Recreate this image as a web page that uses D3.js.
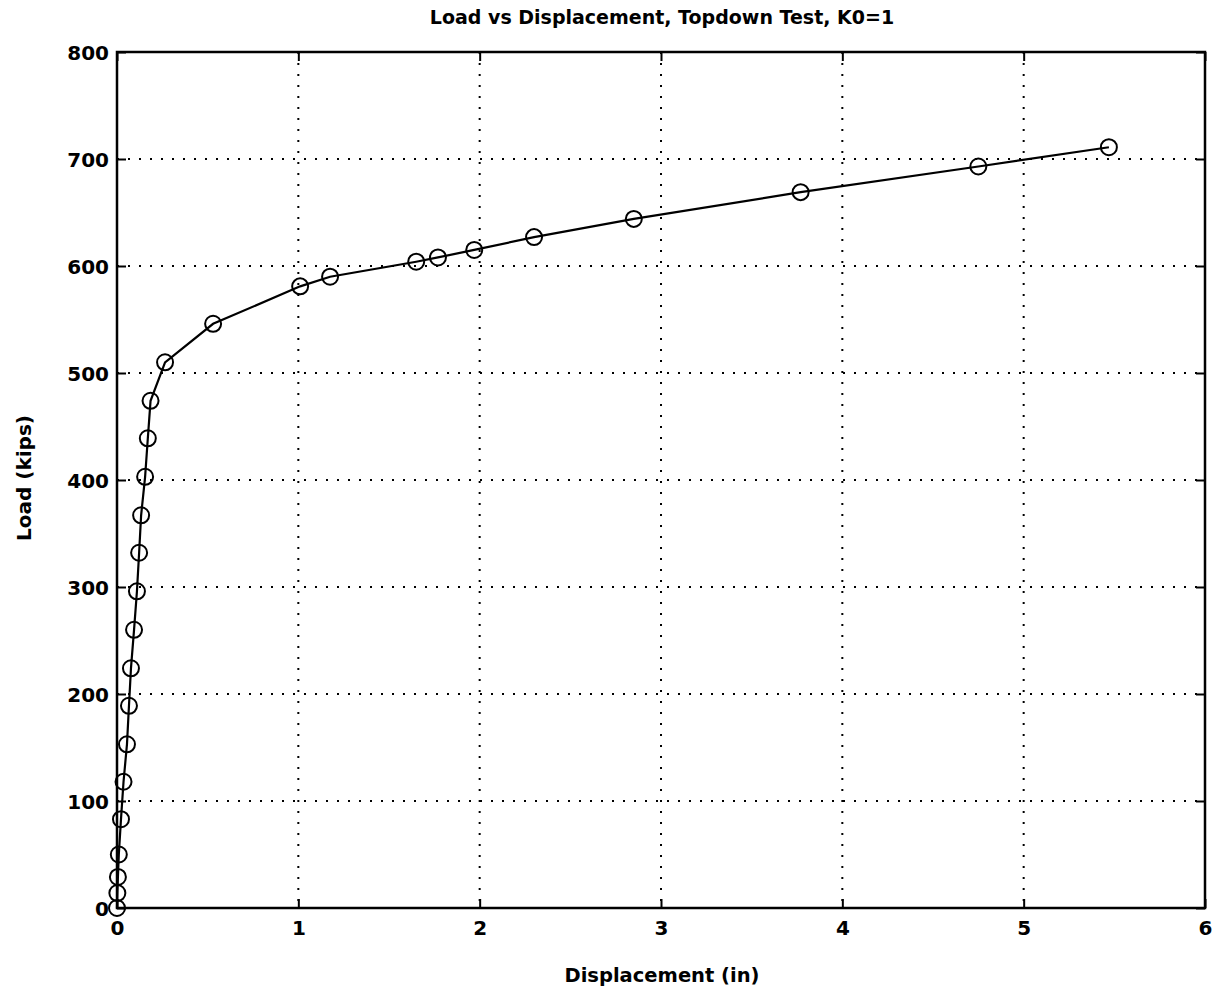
<!DOCTYPE html>
<html>
<head>
<meta charset="utf-8">
<script src="https://cdn.jsdelivr.net/npm/d3@7"></script>
<style>
  html, body { margin: 0; padding: 0; background: #fff; }
  svg { display: block; }
  text { font-family: "DejaVu Sans", "Liberation Sans", Arial, sans-serif; font-weight: bold; fill: #000; }
</style>
</head>
<body>
<svg id="chart" width="1220" height="998"></svg>
<script>
// Load-displacement readings from the topdown test (K0 = 1)
const displacement = [0, 0.002, 0.005, 0.01, 0.022, 0.036, 0.055, 0.066, 0.077, 0.094,
  0.11, 0.122, 0.133, 0.155, 0.17, 0.185, 0.265, 0.53, 1.01, 1.175,
  1.65, 1.77, 1.97, 2.3, 2.85, 3.77, 4.75, 5.47];
const load = [0, 14, 29, 50, 83, 118, 153, 189, 224, 260,
  296, 332, 367, 403, 439, 474, 510, 546, 581, 590,
  604, 608, 615, 627, 644, 669, 693, 711];
const xTicks = [0, 1, 2, 3, 4, 5, 6];
const yTicks = [0, 100, 200, 300, 400, 500, 600, 700, 800];
const titleText = "Load vs Displacement, Topdown Test, K0=1";
const xLabelText = "Displacement (in)";
const yLabelText = "Load (kips)";

const FONT = "DejaVu Sans, Liberation Sans, Arial, sans-serif";
const svg = d3.select("#chart");
const m = { left: 117, right: 1205, top: 52, bottom: 908 };

const x = d3.scaleLinear().domain([0, 6]).range([m.left, m.right]);
const y = d3.scaleLinear().domain([0, 800]).range([m.bottom, m.top]);

// dotted grid
const grid = svg.append("g");
grid.selectAll("line.gx").data(xTicks.slice(1, -1)).join("line")
  .attr("x1", d => x(d)).attr("x2", d => x(d))
  .attr("y1", m.top).attr("y2", m.bottom)
  .attr("stroke", "#000").attr("stroke-width", 2).attr("stroke-dasharray", "2,9");
grid.selectAll("line.gy").data(yTicks.slice(1, -1)).join("line")
  .attr("y1", d => y(d)).attr("y2", d => y(d))
  .attr("x1", m.left).attr("x2", m.right)
  .attr("stroke", "#000").attr("stroke-width", 2).attr("stroke-dasharray", "2,9");

// axes with inward ticks, mirrored on the opposite sides
const tickLen = 9;
const xAxis = d3.axisBottom(x).tickValues(xTicks).tickSize(-tickLen).tickPadding(13).tickFormat(d3.format("d"));
const yAxis = d3.axisLeft(y).tickValues(yTicks).tickSize(-tickLen).tickPadding(8).tickFormat(d3.format("d"));

const gx = svg.append("g").attr("transform", `translate(0,${m.bottom})`).call(xAxis);
const gy = svg.append("g").attr("transform", `translate(${m.left},0)`).call(yAxis);
svg.append("g").attr("transform", `translate(0,${m.top})`)
  .call(d3.axisTop(x).tickValues(xTicks).tickSize(-tickLen).tickFormat(""));
svg.append("g").attr("transform", `translate(${m.right},0)`)
  .call(d3.axisRight(y).tickValues(yTicks).tickSize(-tickLen).tickFormat(""));

svg.selectAll(".domain").remove();
svg.selectAll(".tick line").attr("stroke", "#000").attr("stroke-width", 2);
gx.selectAll("text").attr("font-size", 20).attr("font-family", FONT).attr("font-weight", "bold");
gy.selectAll("text").attr("font-size", 20).attr("font-family", FONT).attr("font-weight", "bold")
  .attr("dy", "0.36em");

// plot box
svg.append("rect")
  .attr("x", m.left).attr("y", m.top)
  .attr("width", m.right - m.left).attr("height", m.bottom - m.top)
  .attr("fill", "none").attr("stroke", "#000").attr("stroke-width", 2.5);

// curve and markers
const pts = displacement.map((d, i) => [d, load[i]]);
svg.append("path")
  .datum(pts)
  .attr("d", d3.line().x(d => x(d[0])).y(d => y(d[1])))
  .attr("fill", "none").attr("stroke", "#000").attr("stroke-width", 2.2);
svg.append("g").selectAll("circle").data(pts).join("circle")
  .attr("cx", d => x(d[0])).attr("cy", d => y(d[1]))
  .attr("r", 8)
  .attr("fill", "none").attr("stroke", "#000").attr("stroke-width", 2);

// titles
svg.append("text").attr("x", 662).attr("y", 24).attr("text-anchor", "middle")
  .attr("font-size", 19).text(titleText);
svg.append("text").attr("x", 662).attr("y", 982).attr("text-anchor", "middle")
  .attr("font-size", 19.5).text(xLabelText);
svg.append("text").attr("transform", `translate(31,478) rotate(-90)`).attr("text-anchor", "middle")
  .attr("font-size", 20).text(yLabelText);
</script>
</body>
</html>
